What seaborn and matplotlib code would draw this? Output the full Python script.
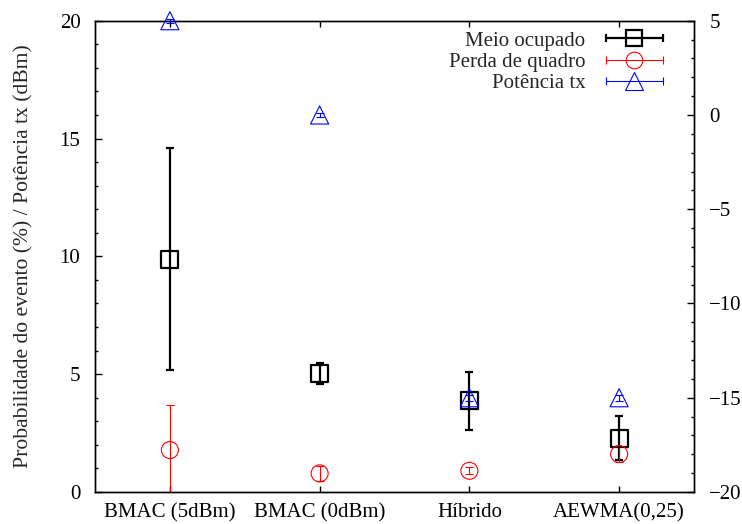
import matplotlib
matplotlib.use("Agg")
import matplotlib.pyplot as plt
import seaborn as sns
import numpy as np
import pandas as pd
from matplotlib.lines import Line2D
from matplotlib.legend_handler import HandlerLine2D, HandlerTuple
from matplotlib.ticker import MultipleLocator

categories = ["BMAC (5dBm)", "BMAC (0dBm)", "Híbrido", "AEWMA(0,25)"]

meio_val = [9.87, 5.04, 3.90, 2.27]
meio_lo = [5.17, 4.60, 2.63, 1.36]
meio_hi = [14.58, 5.48, 5.11, 3.23]

perda_val = [1.78, 0.79, 0.90, 1.61]
perda_lo = [-0.13, 0.47, 0.76, 1.28]
perda_hi = [3.69, 1.11, 1.05, 1.95]

pot_val = [5.0, 0.0, -15.0, -15.0]
pot_lo = [4.9, -0.1, -15.15, -15.15]
pot_hi = [5.1, 0.1, -14.85, -14.85]

left_ticks = [0, 5, 10, 15, 20]
right_ticks = [-20, -15, -10, -5, 0, 5]
legend_labels = ["Meio ocupado", "Perda de quadro", "Potência tx"]

sns.set_theme(style="ticks")
plt.rcParams["font.family"] = ["Liberation Serif", "DejaVu Serif"]
plt.rcParams["axes.unicode_minus"] = True
FS = 15

x = np.arange(1, len(categories) + 1)
df = pd.DataFrame({"x": x, "meio": meio_val, "perda": perda_val, "pot": pot_val})

fig = plt.figure(figsize=(7.42, 5.24), dpi=100)
L, R, T, B = 95, 694, 20.7, 492
ax = fig.add_axes([L / 742, 1 - B / 524, (R - L) / 742, (B - T) / 524])
ax2 = ax.twinx()

def err(v, lo, hi):
    v = np.array(v); lo = np.array(lo); hi = np.array(hi)
    return np.vstack([v - lo, hi - v])

BLW, TLW, CAP = 1.6, 0.8, 2.6
# Meio ocupado
ax.errorbar(df["x"], df["meio"], yerr=err(meio_val, meio_lo, meio_hi), fmt="none",
            ecolor="black", elinewidth=BLW, capsize=CAP, capthick=BLW, zorder=3)
sns.scatterplot(data=df, x="x", y="meio", ax=ax, marker="s", s=150, facecolor="none",
                edgecolor="black", linewidth=BLW, zorder=4, legend=False)
# Perda de quadro
ax.errorbar(df["x"], df["perda"], yerr=err(perda_val, perda_lo, perda_hi), fmt="none",
            ecolor="red", elinewidth=TLW, capsize=CAP, capthick=TLW, zorder=3)
sns.scatterplot(data=df, x="x", y="perda", ax=ax, marker="o", s=150, facecolor="none",
                edgecolor="red", linewidth=TLW, zorder=4, legend=False)
# Potencia tx (right axis)
ax2.errorbar(df["x"], df["pot"], yerr=err(pot_val, pot_lo, pot_hi), fmt="none",
             ecolor="blue", elinewidth=TLW, capsize=CAP, capthick=TLW, zorder=3, clip_on=False)
sns.scatterplot(data=df, x="x", y="pot", ax=ax2, marker="^", s=170, facecolor="none",
                edgecolor="blue", linewidth=TLW, zorder=4, legend=False, clip_on=False)

ax.set_xlim(0.5, 4.5)
ax.set_ylim(0, 20)
ax2.set_ylim(-20, 5)
ax.set_xticks(x)
ax.set_xticklabels(categories, fontsize=FS)
ax.set_yticks(left_ticks)
ax.set_yticklabels([str(t) for t in left_ticks], fontsize=FS)
ax2.set_yticks(right_ticks)
ax2.set_yticklabels([str(t).replace("-", "\u2212") for t in right_ticks], fontsize=FS)
ax.yaxis.set_minor_locator(MultipleLocator(1))
ax2.yaxis.set_minor_locator(MultipleLocator(1))
ax.set_xlabel("")
ax.set_ylabel("Probabilidade do evento (%) / Potência tx (dBm)", fontsize=15.6, labelpad=19)
ax2.set_ylabel("")
ax.tick_params(axis="x", which="major", direction="in", top=True, length=4.5, width=1,
               pad=8, colors="black")
ax.tick_params(axis="y", which="major", direction="in", length=5, width=1, pad=10.5, colors="black")
ax.tick_params(axis="y", which="minor", direction="in", length=2.5, width=1, colors="black")
ax2.tick_params(axis="y", which="major", direction="in", length=5, width=1, pad=11, colors="black")
ax2.tick_params(axis="y", which="minor", direction="in", length=2.5, width=1, colors="black")
for a in (ax, ax2):
    for s in a.spines.values():
        s.set_visible(True)
        s.set_color("black")
        s.set_linewidth(1.0)

# Legend with horizontal error-bar handles
handles = []
hmap = {}
for col, mk, lw, ms in [("black", "s", BLW, 12), ("red", "o", TLW, 12), ("blue", "^", TLW, 13)]:
    bar = Line2D([], [], color=col, lw=lw, marker="|", markersize=6, markeredgewidth=lw)
    mark = Line2D([], [], color=col, lw=0, marker=mk, markersize=ms,
                  markerfacecolor="none", markeredgecolor=col, markeredgewidth=lw)
    hmap[bar] = HandlerLine2D(numpoints=2)
    hmap[mark] = HandlerLine2D(numpoints=1)
    handles.append((bar, mark))
hmap[tuple] = HandlerTuple(ndivide=1, pad=0)
leg = ax2.legend(handles, legend_labels,
                 handler_map=hmap, loc="upper right", bbox_to_anchor=(0.958, 0.978),
                 frameon=False, markerfirst=False, fontsize=FS, handlelength=3.3,
                 handletextpad=0.7, labelspacing=0.08, borderaxespad=0, borderpad=0)
leg._legend_box.align = "right"
leg.set_zorder(10)

fig.savefig("out.png", dpi=100)
